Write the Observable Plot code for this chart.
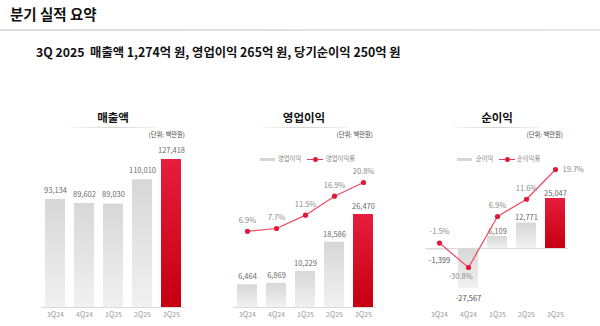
<!DOCTYPE html>
<html><head><meta charset="utf-8">
<script src="https://cdn.jsdelivr.net/npm/d3@7"></script>
<script src="https://cdn.jsdelivr.net/npm/@observablehq/plot@0.6"></script>
<style>
body{margin:0;background:#fff;font-family:"Noto Sans CJK KR","Noto Sans",sans-serif;}
#root{position:relative;width:600px;height:326px;overflow:hidden;background:#fff;}
.a{position:absolute;white-space:pre;}
.ptitle{width:120px;text-align:center;font-size:11.5px;font-weight:700;line-height:14px;top:110px;color:#111;}
.uline{height:1.5px;top:126.5px;background:linear-gradient(to right,rgba(215,215,215,0.2),#d4d4d4 50%,rgba(215,215,215,0.3));}
.unit{width:80px;text-align:right;font-size:6.3px;line-height:10px;top:130px;color:#444;}
.legt{font-size:6.3px;line-height:10px;top:154px;color:#888;}
.sw{top:157.5px;width:15px;height:3px;background:#d6d6d6;}
.ln{top:158.5px;width:16px;height:1px;background:#ec3c56;}
.dt{top:156.5px;width:5px;height:5px;border-radius:50%;background:#e01a3b;}
.plot{position:absolute;left:0;top:140px;}
</style></head>
<body>
<svg width="0" height="0" style="position:absolute">
  <defs>
    <linearGradient id="gGray" x1="0" y1="0" x2="0" y2="1">
      <stop offset="0" stop-color="#d7d7d7"/><stop offset="1" stop-color="#f1f1f1"/>
    </linearGradient>
    <linearGradient id="gRed" x1="0" y1="0" x2="0" y2="1">
      <stop offset="0" stop-color="#e81c3c"/><stop offset="1" stop-color="#c40010"/>
    </linearGradient>
  </defs>
</svg>
<div id="root">
  <div class="a" style="left:10px;top:4px;font-size:14.5px;font-weight:600;line-height:20px;color:#111;">분기 실적 요약</div>
  <div class="a" style="left:0;top:28.5px;width:600px;height:2px;background:linear-gradient(to right,#dcdcdc,#e6e6e6);"></div>
  <div class="a" style="left:36px;top:43px;font-size:12.3px;font-weight:700;line-height:18px;color:#111;">3Q 2025  매출액 1,274억 원, 영업이익 265억 원, 당기순이익 250억 원</div>

  <div class="a ptitle" style="left:53px;">매출액</div>
  <div class="a uline" style="left:70px;width:87px;"></div>
  <div class="a unit" style="left:105px;">(단위: 백만원)</div>

  <div class="a ptitle" style="left:244px;">영업이익</div>
  <div class="a uline" style="left:262px;width:86px;"></div>
  <div class="a unit" style="left:293px;">(단위: 백만원)</div>
  <div class="a sw" style="left:260px;"></div>
  <div class="a legt" style="left:278px;">영업이익</div>
  <div class="a ln" style="left:307px;"></div>
  <div class="a dt" style="left:312.5px;"></div>
  <div class="a legt" style="left:326px;">영업이익률</div>

  <div class="a ptitle" style="left:437px;">순이익</div>
  <div class="a uline" style="left:453px;width:87px;"></div>
  <div class="a unit" style="left:483px;">(단위: 백만원)</div>
  <div class="a sw" style="left:457px;"></div>
  <div class="a legt" style="left:476px;">순이익</div>
  <div class="a ln" style="left:499px;"></div>
  <div class="a dt" style="left:504.5px;"></div>
  <div class="a legt" style="left:517px;">순이익률</div>
</div>
<script>
const quarters = ["3Q24", "4Q24", "1Q25", "2Q25", "3Q25"];
const sales = [93134, 89602, 89030, 110010, 127418];
const opIncome = [6464, 6869, 10229, 18586, 26470];
const opMargin = [6.9, 7.7, 11.5, 16.9, 20.8];
const netIncome = [-1399, -27567, 6109, 12771, 25047];
const netMargin = [-1.5, -30.8, 6.9, 11.6, 19.7];

const FONT = '"Noto Sans CJK KR","Noto Sans",sans-serif';
const fmtNum = v => v.toLocaleString("en-US");
const fmtPct = v => v.toFixed(1) + "%";
const rows = vals => quarters.map((q, i) => ({q, v: vals[i], last: i === quarters.length - 1}));

function base(ml, mr, y, marks) {
  return Plot.plot({
    width: 600, height: 186, marginLeft: ml, marginRight: mr, marginTop: 0, marginBottom: 19,
    style: {background: "transparent", overflow: "visible", fontFamily: FONT},
    x: {type: "band", domain: quarters, paddingInner: 0.32, paddingOuter: 0.1, axis: null},
    y: {...y, axis: null},
    marks
  });
}

function barPlot(vals, ml, mr, y, posDy, negDy) {
  const data = rows(vals);
  return base(ml, mr, y, [
    Plot.barY(data.filter(d => !d.last), {x: "q", y: "v", fill: "url(#gGray)"}),
    Plot.barY(data.filter(d => d.last), {x: "q", y: "v", fill: "url(#gRed)"}),
    Plot.ruleY([0], {stroke: "#dadada", strokeWidth: 1}),
    Plot.text(quarters, {x: d => d, frameAnchor: "bottom", dy: 9, fontSize: 7, fill: "#9a9a9a"}),
    Plot.text(data.filter(d => d.v >= 0), {x: "q", y: "v", text: d => fmtNum(d.v), dy: posDy, fontSize: 7.5, fill: "#6a6a6a"}),
    Plot.text(data.filter(d => d.v < 0), {x: "q", y: "v", text: d => fmtNum(d.v), dy: negDy, fontSize: 7.5, fill: "#555"})
  ]);
}

function linePlot(vals, ml, mr, y, rightLast) {
  const data = rows(vals);
  const mn = d3.min(vals);
  const below = data.filter(d => d.v === mn && d.v < 0);
  const right = rightLast ? data.filter(d => d.last) : [];
  const above = data.filter(d => !below.includes(d) && !right.includes(d));
  return base(ml, mr, y, [
    Plot.line(data, {x: "q", y: "v", stroke: "#ee4a62", strokeWidth: 1.2}),
    Plot.dot(data, {x: "q", y: "v", r: 2.6, fill: "#e01a3b", stroke: "none"}),
    Plot.text(above, {x: "q", y: "v", text: d => fmtPct(d.v), dy: -11, fontSize: 7.5, fill: "#8a8a8a"}),
    Plot.text(below, {x: "q", y: "v", text: d => fmtPct(d.v), dy: 9, dx: -8, fontSize: 7.5, fill: "#8a8a8a"}),
    Plot.text(right, {x: "q", y: "v", text: d => fmtPct(d.v), dx: 7, textAnchor: "start", fontSize: 7.5, fill: "#8a8a8a"})
  ]);
}

const root = document.getElementById("root");
function add(svg) { svg.classList.add("plot"); root.appendChild(svg); }

// Panel 1: 매출액
add(barPlot(sales, 41, 415, {domain: [0, d3.max(sales)], range: [167, 19]}, -9, 10));
// Panel 2: 영업이익 + 영업이익률
add(barPlot(opIncome, 233, 224, {domain: [0, d3.max(opIncome)], range: [167, 74]}, -8, 10));
add(linePlot(opMargin, 233, 224, {domain: [0, d3.max(opMargin)], range: [115, 42]}, false));
// Panel 3: 순이익 + 순이익률 — the original compresses the negative side
const kBar = 0.727, kPct = 0.227;
const squeeze = k => v => (v < 0 ? v * k : v);
add(barPlot(netIncome, 425, 32, {transform: squeeze(kBar), domain: [d3.min(netIncome) * kBar, d3.max(netIncome)], range: [148, 58]}, -5, 10));
add(linePlot(netMargin, 425, 32, {transform: squeeze(kPct), domain: [d3.min(netMargin) * kPct, d3.max(netMargin)], range: [127, 29]}, true));
</script>
</body></html>
